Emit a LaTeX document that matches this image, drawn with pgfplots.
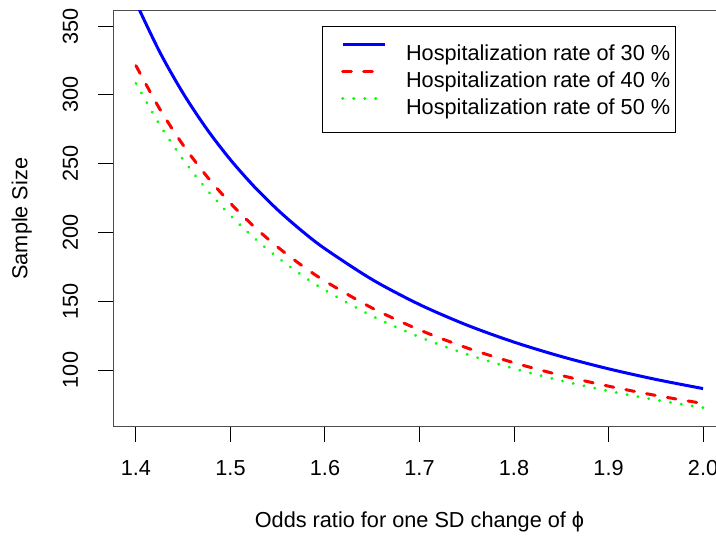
\documentclass[border=0pt]{standalone}
\usepackage{fontspec}
\setmainfont{Liberation Sans}
\usepackage{pgfplots}
\pgfplotsset{compat=1.18}
\begin{document}
\begin{tikzpicture}[font=\fontsize{10.85}{13}\selectfont]
\begin{axis}[
  at={(0,0)}, anchor=south west,
  scale only axis, width=306.2pt, height=208pt,
  xmin=1.376, xmax=2.024, ymin=58.8, ymax=361.2,
  xtick={1.4,1.5,1.6,1.7,1.8,1.9,2.0},
  xticklabels={1.4,1.5,1.6,1.7,1.8,1.9,2.0},
  ytick={100,150,200,250,300,350},
  xtick pos=bottom, ytick pos=left,
  tick align=outside, major tick length=7.5pt,
  tick style={black, line width=0.5pt},
  axis line style={black!70, line width=0.6pt},
  /pgf/number format/assume math mode=true,
  xticklabel style={anchor=center},
  xticklabel shift=13pt,
  yticklabel style={rotate=90, anchor=center},
  yticklabel shift=14pt,
  xlabel={Odds ratio for one SD change of ϕ},
  ylabel={Sample Size},
  xlabel style={at={(axis description cs:0.5,-0.2291)}, anchor=center},
  ylabel style={at={(axis description cs:-0.1496,0.5)}, anchor=center},
  legend cell align=left,
  legend style={at={(0.9184,0.9639)}, anchor=north east, draw=black, line width=0.5pt,
    inner xsep=2.5pt, inner ysep=6.25pt, row sep=0pt,
    nodes={inner sep=0pt, text height=10.65pt, text depth=2.85pt}},
  /tikz/every odd column/.append style={column sep=10pt},
  legend image code/.code={\path (0pt,0pt) (27.65pt,3.9pt); \draw[#1] (6.65pt,3.9pt) -- (27.65pt,3.9pt);},
]
\addplot[blue, line width=1.5pt, smooth] coordinates {
(1.400,367.11) (1.425,331.33) (1.450,301.04) (1.475,275.15) (1.500,252.81)
(1.525,233.39) (1.550,216.39) (1.575,201.42) (1.600,188.14) (1.650,165.73)
(1.700,147.61) (1.750,132.71) (1.800,120.30) (1.850,109.82) (1.900,100.88)
(1.950,93.19) (2.000,86.51)};
\addlegendentry{Hospitalization rate of 30 \%}
\addplot[red, line width=1.5pt, line cap=round, dash pattern=on 4.35pt off 6.2pt, smooth] coordinates {
(1.400,321.22) (1.425,289.92) (1.450,263.41) (1.475,240.75) (1.500,221.21)
(1.525,204.22) (1.550,189.35) (1.575,176.24) (1.600,164.63) (1.650,145.02)
(1.700,129.16) (1.750,116.13) (1.800,105.26) (1.850,96.09) (1.900,88.27)
(1.950,81.54) (2.000,75.69)};
\addlegendentry{Hospitalization rate of 40 \%}
\addplot[green, line width=1.5pt, line cap=round, dash pattern=on 0.1pt off 5.4pt, smooth] coordinates {
(1.400,308.37) (1.425,278.32) (1.450,252.87) (1.475,231.12) (1.500,212.36)
(1.525,196.05) (1.550,181.77) (1.575,169.19) (1.600,158.04) (1.650,139.22)
(1.700,123.99) (1.750,111.48) (1.800,101.05) (1.850,92.25) (1.900,84.74)
(1.950,78.28) (2.000,72.66)};
\addlegendentry{Hospitalization rate of 50 \%}
\end{axis}
\pgfresetboundingbox
\useasboundingbox (-56.65pt,-54.15pt) rectangle (301.35pt,213.35pt);
\end{tikzpicture}
\end{document}
